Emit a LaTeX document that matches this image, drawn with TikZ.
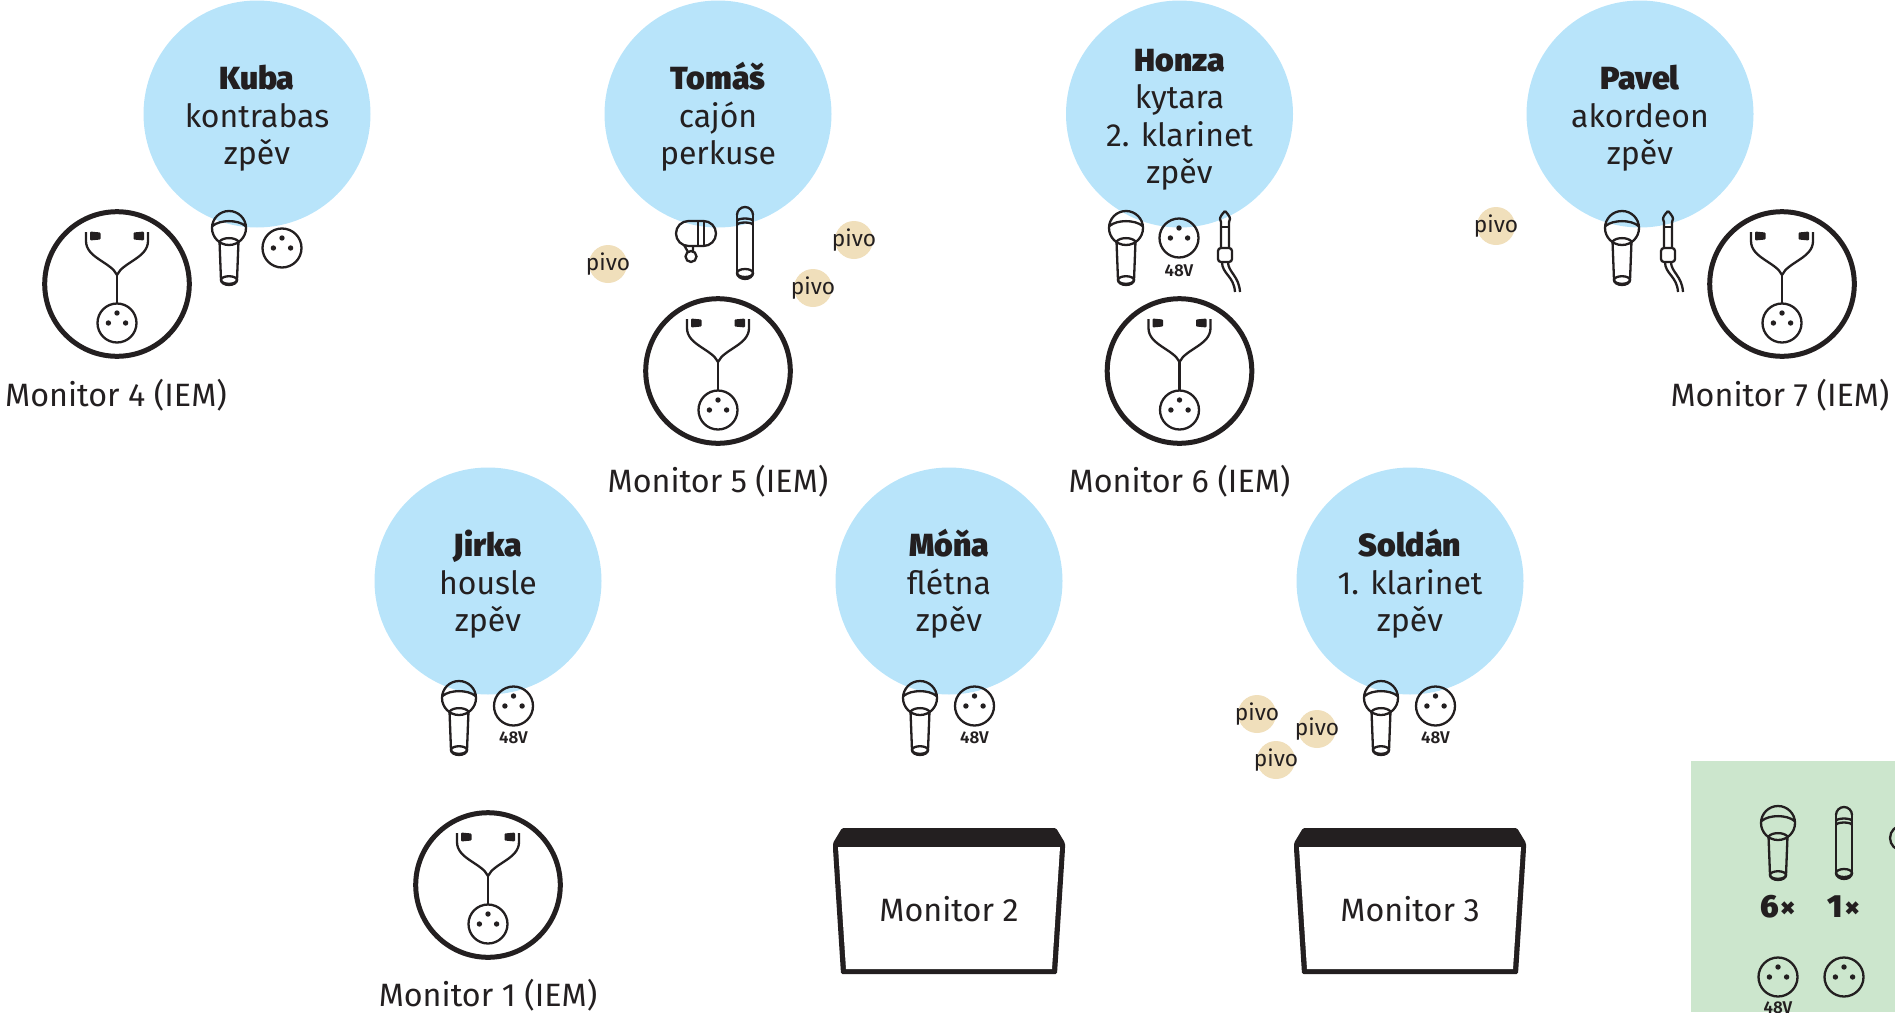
\documentclass[tikz,border=0pt]{standalone}
\usepackage{fontspec}
\setmainfont{Fira Sans}[BoldFont={Fira Sans SemiBold}]
\newfontfamily\heavyfont{Fira Sans Black}
\usetikzlibrary{positioning}
\definecolor{ink}{HTML}{231F20}
\definecolor{skyfill}{HTML}{B8E4FA}
\definecolor{beerfill}{HTML}{F0DFBB}
\definecolor{sumfill}{HTML}{CCE6CD}
\newcommand{\pivo}{\makebox[0pt]{pivo}}
\newcommand{\who}[1]{{\heavyfont\rule{0pt}{30pt}#1}}
\tikzset{
  person/.style={circle, fill=skyfill, minimum size=227pt, inner sep=0pt},
  persontext/.style={align=center, text=ink, inner sep=0pt, yshift=-1.8pt, font=\fontsize{32}{37.5}\selectfont},
  beer/.style={circle, fill=beerfill, minimum size=38pt, inner sep=0pt, text=ink, font=\fontsize{22.7}{23}\selectfont},
  monlabel/.style={text=ink, font=\fontsize{32.3}{36}\selectfont, inner sep=0pt},
  volt/.style={text=ink, font=\bfseries\fontsize{17}{17}\selectfont, inner sep=0pt},
  count/.style={text=ink, font=\heavyfont\fontsize{32}{32}\selectfont, inner sep=0pt},
  icon/.style={draw=ink, line width=2.3pt},
  mic/.pic={
    \draw[icon] (-9.5,13) -- (-8,52) (9.5,13) -- (8,52);
    \draw[icon] (0,52) ellipse (8 and 3.8);
    \draw[icon] (-8,52) arc (180:0:8 and 5);
    \draw[icon] (-9.5,13.5) .. controls (-6,9) and (6,9) .. (9.5,13.5);
    \draw[icon] (0,0) circle (17);
    \draw[icon] (-16.5,-2) .. controls (-9,-8.5) and (9,-8.5) .. (16.5,-2);
  },
  stick/.pic={
    \draw[icon] (-8,-27) -- (-8,31) (8,-27) -- (8,31);
    \draw[icon] (-8,-27) arc (180:360:8 and 8);
    \draw[icon] (-8,-21) arc (180:360:8 and 2.5) (-8,-17) arc (180:360:8 and 2.5);
    \draw[icon] (0,31) ellipse (8 and 4);
    \draw[icon] (-8,31) arc (180:0:8 and 6);
  },
  clipmic/.pic={
    \draw[icon] (-7.5,-12.5) -- (7.5,-12.5) arc (-90:90:12.5) -- (-7.5,12.5) arc (90:270:12.5) -- cycle;
    \draw[icon] (2,-12.5) -- (2,12.5) (8,-12.5) -- (8,12.5);
    \draw[icon] (-12,11.5) -- (-8,18.5) (-3,12.5) -- (-3,18);
    \draw[icon] (-5,23) circle (5.5);
  },
  xlr/.pic={
    \draw[icon] (0,0) circle (19.5);
    \fill[ink] (0,-10) circle (2.7) (-8.6,0) circle (2.7) (8.6,0) circle (2.7);
  },
  jack/.pic={
    \draw[icon] (0,-25) .. controls (-3,-22) and (-5,-19) .. (-5,-17) .. controls (-5,-15) and (-3,-13.5) .. (-4,-12) -- (-4,12);
    \draw[icon] (0,-25) .. controls (3,-22) and (5,-19) .. (5,-17) .. controls (5,-15) and (3,-13.5) .. (4,-12) -- (4,12);
    \draw[icon] (-4,-9) -- (4,-9);
    \draw[icon,rounded corners=3pt] (-7,12) rectangle (7,26);
    \draw[icon] (-3,26) .. controls (-3,38) and (9,40) .. (10,56) (3,26) .. controls (3,36) and (14,40) .. (15,56);
  },
  iem/.pic={
    \draw[draw=ink, line width=5pt] (0,0) circle (72.3);
    \draw[icon] (-31,-52) -- (-31,-43) .. controls (-31,-26) and (-6,-22) .. (0,-9) .. controls (6,-22) and (31,-26) .. (31,-43) -- (31,-52);
    \fill[ink, rounded corners=1pt] (-27,-52.5) -- (-16.5,-51.5) -- (-16.5,-44.5) -- (-27,-43.5) -- cycle;
    \fill[ink, rounded corners=1pt] (27,-52.5) -- (16.5,-51.5) -- (16.5,-44.5) -- (27,-43.5) -- cycle;
    \draw[icon] (0,-9) -- (0,20);
    \pic at (0,39) {xlr};
  },
  wedge/.pic={
    \fill[ink, rounded corners=1.5pt] (-107,-81) -- (107,-81) -- (116,-66) -- (116,-60) -- (108,65) -- (-108,65) -- (-116,-60) -- (-116,-66) -- cycle;
    \fill[white] (-111,-62) -- (111,-62) -- (103,60) -- (-103,60) -- cycle;
  },
}
\begin{document}
\begin{tikzpicture}[x=1pt, y=-1pt]
\useasboundingbox (0,0) rectangle (1895,1012);
\clip (0,0) rectangle (1895,1012);
% players, back row
\node[person] (kuba) at (257,114) {};
\node[person] (tomas) at (718,114) {};
\node[person] (honza) at (1179.5,114) {};
\node[person] (pavel) at (1640,114) {};
\node[persontext] (kuba text) at (kuba) {\who{Kuba}\\kontrabas\\zpěv};
\node[persontext] (tomas text) at (tomas) {\who{Tomáš}\\cajón\\perkuse};
\node[persontext] (honza text) at (honza) {\who{Honza}\\kytara\\2. klarinet\\zpěv};
\node[persontext] (pavel text) at (pavel) {\who{Pavel}\\akordeon\\zpěv};
% players, front row
\node[person] (jirka) at (488,581) {};
\node[person] (mona) at (949,581) {};
\node[person] (soldan) at (1410,581) {};
\node[persontext] (jirka text) at (jirka) {\who{Jirka}\\housle\\zpěv};
\node[persontext] (mona text) at (mona) {\who{Móňa}\\flétna\\zpěv};
\node[persontext] (soldan text) at (soldan) {\who{Soldán}\\1. klarinet\\zpěv};
%
\node[beer] (beer a) at (608,264) {\pivo};
\node[beer] (beer b) at (854,240) {\pivo};
\node[beer] (beer c) at (813,288) {\pivo};
\node[beer] (beer d) at (1496,226) {\pivo};
\node[beer] (beer e) at (1257,714) {\pivo};
\node[beer] (beer f) at (1317,729) {\pivo};
\node[beer] (beer g) at (1276,760) {\pivo};
% Kuba
\pic at (229,228) {mic};
\pic at (282,248) {xlr};
\pic at (117,284) {iem};
\node[monlabel] (mon four) at (116,395) {Monitor 4 (IEM)};
% Tomas
\pic at (696,233.5) {clipmic};
\pic at (745,242) {stick};
\pic at (718,371) {iem};
\node[monlabel] (mon five) at (718,481) {Monitor 5 (IEM)};
% Honza
\pic at (1126,228) {mic};
\pic at (1179,238) {xlr};
\node[volt] (volt honza) at (1179,271) {48V};
\pic at (1225,236) {jack};
\pic at (1179.5,371) {iem};
\node[monlabel] (mon six) at (1179.5,481) {Monitor 6 (IEM)};
% Pavel
\pic at (1622,228) {mic};
\pic at (1668,236) {jack};
\pic at (1782,284) {iem};
\node[monlabel] (mon seven) at (1780,395) {Monitor 7 (IEM)};
% Jirka
\pic at (459,698) {mic};
\pic at (513.5,706) {xlr};
\node[volt] (volt jirka) at (513.5,738) {48V};
\pic at (488,885) {iem};
\node[monlabel] (mon one) at (488,995) {Monitor 1 (IEM)};
% Mona
\pic at (920,698) {mic};
\pic at (974.5,706) {xlr};
\node[volt] (volt mona) at (974.5,738) {48V};
\pic at (949,909) {wedge};
\node[monlabel] (mon two) at (949,909) {Monitor 2};
% Soldan
\pic at (1381,698) {mic};
\pic at (1435.5,706) {xlr};
\node[volt] (volt soldan) at (1435.5,738) {48V};
\pic at (1410,909) {wedge};
\node[monlabel] (mon three) at (1410,909) {Monitor 3};
% summary
\fill[sumfill] (1691,761) rectangle (1895,1012);
\pic at (1778,823) {mic};
\pic at (1844,842) {stick};
\pic at (1910,838) {clipmic};
\node[count] (count mic) at (1778,907) {6\kern1pt{\fontsize{30}{30}\selectfont×}};
\node[count] (count stick) at (1844,907) {1\kern1pt{\fontsize{30}{30}\selectfont×}};
\pic at (1778,977) {xlr};
\pic at (1844,977) {xlr};
\node[volt] (volt sum) at (1778,1008) {48V};
\end{tikzpicture}
\end{document}
